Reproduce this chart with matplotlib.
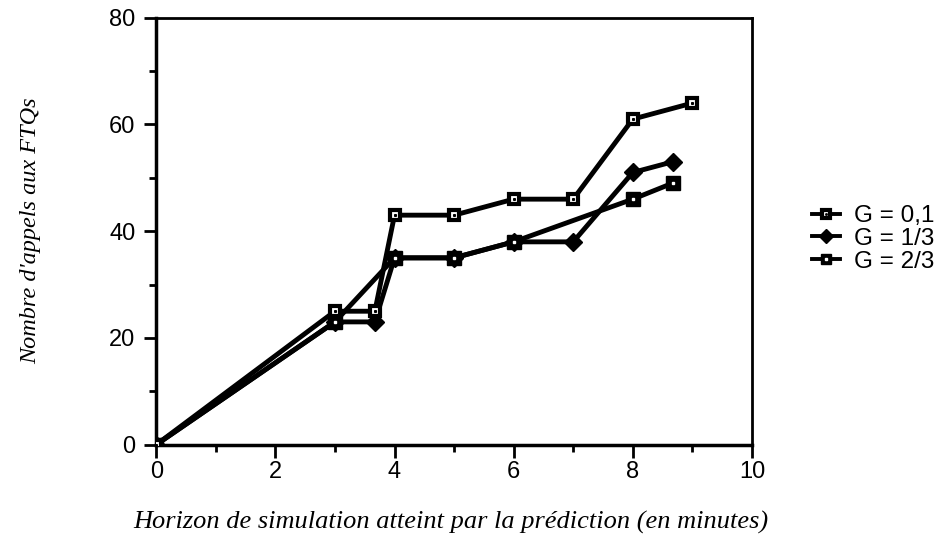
import matplotlib
matplotlib.use('Agg')
import matplotlib.pyplot as plt
from matplotlib.ticker import MultipleLocator

# horizon (minutes) and number of FTQ calls, one list per G value
x_g01 = [0, 3, 3.67, 4, 5, 6, 7, 8, 9]
y_g01 = [0, 25, 25, 43, 43, 46, 46, 61, 64]

x_g13 = [0, 3, 3.67, 4, 5, 6, 7, 8, 8.67]
y_g13 = [0, 23, 23, 35, 35, 38, 38, 51, 53]

x_g23 = [0, 3, 4, 5, 6, 8, 8.67]
y_g23 = [0, 23, 35, 35, 38, 46, 49]

labels = ['G = 0,1', 'G = 1/3', 'G = 2/3']

sans = 'Liberation Sans'
serif = 'Liberation Serif'

fig = plt.figure(figsize=(9.47, 5.37), dpi=100)
ax = fig.add_axes([0.165, 0.172, 0.629, 0.795])

lw = 3.5
l13, = ax.plot(x_g13, y_g13, color='black', lw=lw, marker='D', markersize=9.5,
               markerfacecolor='black', markeredgecolor='black', zorder=3)
l23, = ax.plot(x_g23, y_g23, color='black', lw=lw, marker='s', markersize=9.5,
               markerfacecolor='black', markeredgecolor='black', zorder=4)
d23, = ax.plot(x_g23, y_g23, linestyle='none', marker='s', markersize=1.8,
               markerfacecolor='white', markeredgecolor='white', zorder=5)
l01, = ax.plot(x_g01, y_g01, color='black', lw=lw, marker='s', markersize=7,
               markerfacecolor='white', markeredgecolor='black', markeredgewidth=3,
               zorder=6)
d01, = ax.plot(x_g01, y_g01, linestyle='none', marker='s', markersize=1.2,
               markerfacecolor='black', markeredgecolor='black', zorder=7)

ax.set_xlim(0, 10)
ax.set_ylim(0, 80)
ax.xaxis.set_major_locator(MultipleLocator(2))
ax.xaxis.set_minor_locator(MultipleLocator(1))
ax.yaxis.set_major_locator(MultipleLocator(20))
ax.yaxis.set_minor_locator(MultipleLocator(10))
ax.tick_params(which='major', direction='out', length=9, width=2)
ax.tick_params(which='minor', direction='out', length=5, width=2)
ax.tick_params(axis='x', which='major', pad=3)
ax.tick_params(axis='y', which='major', pad=6)
for lab in ax.get_xticklabels() + ax.get_yticklabels():
    lab.set_fontfamily(sans)
    lab.set_fontsize(17)
for sp in ax.spines.values():
    sp.set_linewidth(2.5)
ax.spines['top'].set_linewidth(2)
ax.spines['right'].set_linewidth(2)

ax.set_xlabel('Horizon de simulation atteint par la prédiction (en minutes)',
              fontfamily=serif, fontstyle='italic', fontsize=19)
ax.set_ylabel("Nombre d'appels aux FTQs",
              fontfamily=serif, fontstyle='italic', fontsize=17.5)
ax.xaxis.set_label_coords(0.494, -0.155)
ax.yaxis.set_label_coords(-0.193, 0.5)

leg = fig.legend([(l01, d01), l13, (l23, d23)], labels, loc='center left',
                 bbox_to_anchor=(0.857, 0.555), frameon=False,
                 prop={'family': sans, 'size': 17.5}, handlelength=1.15,
                 handletextpad=0.6, labelspacing=0.03, borderpad=0,
                 borderaxespad=0, markerscale=0.8)
for h in leg.legend_handles:
    if hasattr(h, 'set_linewidth'):
        h.set_linewidth(2.8)

fig.savefig('out.png', dpi=100)
